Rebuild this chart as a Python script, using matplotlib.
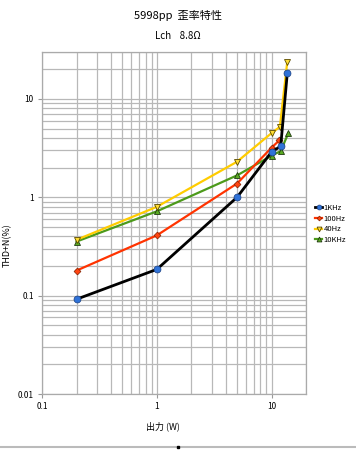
import numpy as np
import matplotlib
matplotlib.use("Agg")
import matplotlib.pyplot as plt
from matplotlib.lines import Line2D

plt.rcParams['font.family'] = ['Noto Sans CJK JP', 'DejaVu Sans']

# output power (W) and THD+N (%)
power = [0.2, 1, 5, 10, 12, 13.7]
thd_1k = [0.092, 0.185, 1.0, 2.9, 3.3, 18.3]

power_100 = [0.2, 1, 5, 10, 11.7]
thd_100 = [0.18, 0.41, 1.38, 3.2, 3.8]

power_40 = [0.2, 1, 5, 10, 11.8, 13.7]
thd_40 = [0.37, 0.8, 2.3, 4.5, 5.2, 24]

power_10k = [0.2, 1, 5, 10, 12, 14]
thd_10k = [0.355, 0.72, 1.67, 2.65, 2.95, 4.5]

labels = ['1KHz', '100Hz', '40Hz', '10KHz']

fig = plt.figure(figsize=(3.56, 4.5), dpi=100)
ax = fig.add_axes([0.118, 0.1244, 0.742, 0.76])

ax.plot(power_10k, thd_10k, '-', color='#4c9a1a', lw=1.6, marker='^', ms=5,
        mfc='#5aab22', mec='#203a10', mew=0.6, label=labels[3], zorder=3)
ax.plot(power_40, thd_40, '-', color='#ffcc00', lw=1.6, marker='v', ms=5,
        mfc='#ffdd33', mec='#5a4a00', mew=0.6, label=labels[2], zorder=4)
ax.plot(power_100, thd_100, '-', color='#ff3300', lw=1.6, marker='D', ms=3.5,
        mfc='#ff4411', mec='#802000', mew=0.5, label=labels[1], zorder=5)
ax.plot(power, thd_1k, '-', color='black', lw=2.0, marker='o', ms=5,
        mfc='#2f72d8', mec='#1a3f80', mew=0.5, label=labels[0], zorder=6)

ax.set_xscale('log')
ax.set_yscale('log')
ax.set_xlim(0.1, 20)
ax.set_ylim(0.01, 30)

ax.set_xticks([0.1, 1, 10])
ax.set_xticklabels(['0.1', '1', '10'])
ax.set_yticks([0.01, 0.1, 1, 10])
ax.set_yticklabels(['0.01', '0.1', '1', '10'])
ax.tick_params(axis='both', which='major', labelsize=6, length=3, color='#999999', pad=3)
ax.tick_params(axis='both', which='minor', length=0)

ax.grid(True, which='both', color='#b8b8b8', lw=0.9)
ax.set_axisbelow(True)
for s in ax.spines.values():
    s.set_color('#aaaaaa')
    s.set_linewidth(0.9)

ax.set_xlabel('出力 (W)', fontsize=6.5)
ax.set_ylabel('THD+N(%)', fontsize=6.5)
ax.xaxis.set_label_coords(0.458, -0.08)
ax.yaxis.set_label_coords(-0.113, 0.436)

fig.text(0.5, 0.966, '5998pp  歪率特性', ha='center', va='center', fontsize=8)
fig.text(0.5, 0.92, 'Lch    8.8Ω', ha='center', va='center', fontsize=7)

handles, lbls = ax.get_legend_handles_labels()
order = [3, 2, 1, 0]
leg = fig.legend([handles[i] for i in order], [lbls[i] for i in order],
                 loc='upper left', bbox_to_anchor=(0.875, 0.555),
                 fontsize=5.5, frameon=False, handlelength=0.9,
                 handletextpad=0.2, labelspacing=0.35, markerscale=0.7,
                 borderpad=0)

# gray line at the very bottom of the picture
fig.add_artist(Line2D([0, 1], [0.0067, 0.0067], color='#bbbbbb', lw=1.5))
fig.add_artist(Line2D([0.5], [0.0067], marker='s', color='black', ms=2, lw=0))

fig.savefig('out.png', dpi=100)
